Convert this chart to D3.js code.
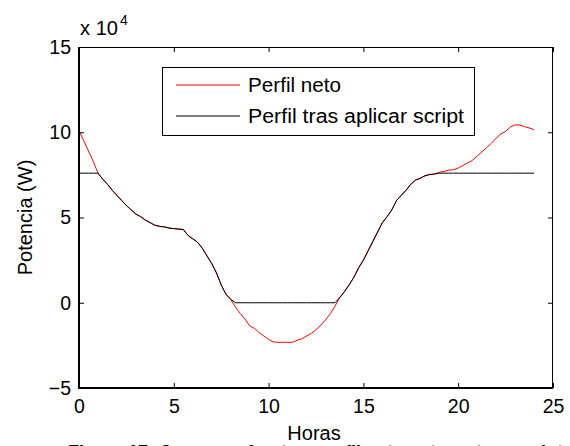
<!DOCTYPE html>
<html>
<head>
<meta charset="utf-8">
<script src="https://cdn.jsdelivr.net/npm/d3@7"></script>
<style>
  html, body { margin: 0; padding: 0; background: #fff; }
  svg { display: block; }
  text { font-family: "Liberation Sans", Arial, sans-serif; fill: #000; }
</style>
</head>
<body>
<svg id="chart" width="570" height="446"></svg>
<script>
// ---- data (power in units of 10^4 W) ----
const hours = [0,0.25,0.5,0.75,1,1.25,1.5,1.75,2,2.25,2.5,2.75,3,3.25,3.5,3.75,4,4.25,4.5,4.75,
  5,5.25,5.5,5.75,6,6.25,6.5,6.75,7,7.25,7.5,7.75,8,8.25,8.5,8.75,9,9.25,9.5,9.75,
  10,10.25,10.5,10.75,11,11.25,11.5,11.75,12,12.25,12.5,12.75,13,13.25,13.5,13.75,14,14.25,14.5,14.75,
  15,15.25,15.5,15.75,16,16.25,16.5,16.75,17,17.25,17.5,17.75,18,18.25,18.5,18.75,19,19.25,19.5,19.75,
  20,20.25,20.5,20.75,21,21.25,21.5,21.75,22,22.25,22.5,22.75,23,23.25,23.5,23.75,24];

const perfilNeto = [10.1,9.5,8.9,8.3,7.6,7.25,6.95,6.6,6.3,6.0,5.7,5.45,5.2,5.05,4.85,4.7,4.55,4.48,4.45,4.38,
  4.35,4.32,4.3,3.95,3.75,3.55,3.2,2.75,2.3,1.75,1.05,0.5,0.2,-0.25,-0.62,-0.95,-1.35,-1.5,-1.75,-1.95,
  -2.15,-2.3,-2.32,-2.32,-2.32,-2.32,-2.2,-2.12,-1.95,-1.8,-1.58,-1.32,-1.0,-0.65,-0.2,0.3,0.65,1.05,1.5,2.05,
  2.5,3.05,3.6,4.15,4.7,5.05,5.45,6.0,6.3,6.6,6.95,7.2,7.3,7.45,7.52,7.55,7.65,7.7,7.78,7.8,
  7.9,8.05,8.2,8.35,8.6,8.85,9.1,9.35,9.65,9.9,10.05,10.3,10.43,10.43,10.33,10.25,10.15];

const perfilScript = [7.6,7.6,7.6,7.6,7.6,7.25,6.95,6.6,6.3,6.0,5.7,5.45,5.2,5.05,4.85,4.7,4.55,4.48,4.45,4.38,
  4.35,4.32,4.3,3.95,3.75,3.55,3.2,2.75,2.3,1.75,1.05,0.5,0.2,0,0,0,0,0,0,0,
  0,0,0,0,0,0,0,0,0,0,0,0,0,0,0,0.3,0.65,1.05,1.5,2.05,
  2.5,3.05,3.6,4.15,4.7,5.05,5.45,6.0,6.3,6.6,6.95,7.2,7.3,7.45,7.52,7.55,7.6,7.6,7.6,7.6,
  7.6,7.6,7.6,7.6,7.6,7.6,7.6,7.6,7.6,7.6,7.6,7.6,7.6,7.6,7.6,7.6,7.6];

const xTicks = [0,5,10,15,20,25];
const yTicks = [-5,0,5,10,15];
const legendLabels = ["Perfil neto", "Perfil tras aplicar script"];
const legendWidths = [93, 216];
const seriesColors = ["#ff0000", "#000000"];

// ---- layout ----
const svg = d3.select("#chart");
const L = 79, R = 553, T = 47, B = 388;
const x = d3.scaleLinear().domain([0, 25]).range([L, R]);
const y = d3.scaleLinear().domain([-5, 15]).range([B, T]);

// plot lines
const line = d3.line().x((d, i) => x(hours[i])).y(d => y(d));
svg.append("path").datum(perfilNeto).attr("d", line)
  .attr("fill", "none").attr("stroke", seriesColors[0]).attr("stroke-width", 1);
svg.append("path").datum(perfilScript).attr("d", line)
  .attr("fill", "none").attr("stroke", seriesColors[1]).attr("stroke-width", 1);

// axes (ticks pointing inward)
const fs = 19.5;
const gB = svg.append("g").attr("transform", `translate(0,${B})`)
  .call(d3.axisBottom(x).tickValues(xTicks).tickSizeInner(-5).tickSizeOuter(0).tickPadding(11));
const gL = svg.append("g").attr("transform", `translate(${L},0)`)
  .call(d3.axisLeft(y).tickValues(yTicks).tickSizeInner(-5).tickSizeOuter(0).tickPadding(8));
const gT = svg.append("g").attr("transform", `translate(0,${T})`)
  .call(d3.axisTop(x).tickValues(xTicks).tickSizeInner(-5).tickSizeOuter(0).tickFormat(""));
const gR = svg.append("g").attr("transform", `translate(${R},0)`)
  .call(d3.axisRight(y).tickValues(yTicks).tickSizeInner(-5).tickSizeOuter(0).tickFormat(""));
[gB, gL, gT, gR].forEach(g => {
  g.select(".domain").remove();
  g.selectAll(".tick line").attr("stroke", "#000");
  g.selectAll(".tick text").attr("font-size", fs).attr("font-family", "Liberation Sans, Arial, sans-serif").attr("fill", "#000");
});
gB.selectAll(".tick text").attr("dy", "0.71em");

// box
svg.append("line").attr("x1", L).attr("x2", R).attr("y1", T + 0.5).attr("y2", T + 0.5).attr("stroke", "#000");
svg.append("line").attr("x1", R - 0.5).attr("x2", R - 0.5).attr("y1", T).attr("y2", B).attr("stroke", "#000");
svg.append("line").attr("x1", L).attr("x2", R).attr("y1", B).attr("y2", B).attr("stroke", "#000").attr("stroke-width", 2);
svg.append("line").attr("x1", L).attr("x2", L).attr("y1", T).attr("y2", B + 1).attr("stroke", "#000").attr("stroke-width", 2);

// exponent label
svg.append("text").attr("x", 80).attr("y", 35).attr("font-size", 20)
  .attr("textLength", 38).attr("lengthAdjust", "spacingAndGlyphs").text("x 10");
svg.append("text").attr("x", 120).attr("y", 25).attr("font-size", 14).text("4");

// axis labels
svg.append("text").attr("x", (L + R) / 2 - 2).attr("y", 440).attr("text-anchor", "middle")
  .attr("font-size", 20).text("Horas");
svg.append("text").attr("transform", `translate(32,${(T + B) / 2}) rotate(-90)`)
  .attr("text-anchor", "middle").attr("font-size", 20).text("Potencia (W)");

// caption (cut off at bottom)
svg.append("text").attr("x", 68).attr("y", 458).attr("font-size", 18).attr("font-weight", "bold")
  .text("Figura 17: Consumo frente a perfil neto antes y tras script útil");

// legend
const lg = svg.append("g");
lg.append("rect").attr("x", 162.5).attr("y", 67.5).attr("width", 312).attr("height", 68)
  .attr("fill", "#fff").attr("stroke", "#000").attr("stroke-width", 1);
legendLabels.forEach((lab, i) => {
  const yy = 85 + i * 31;
  lg.append("line").attr("x1", 176).attr("x2", 240).attr("y1", yy).attr("y2", yy)
    .attr("stroke", seriesColors[i]).attr("stroke-width", 1);
  lg.append("text").attr("x", 248).attr("y", yy).attr("dy", "0.36em")
    .attr("font-size", 20).attr("textLength", legendWidths[i]).attr("lengthAdjust", "spacingAndGlyphs")
    .text(lab);
});
</script>
</body>
</html>
